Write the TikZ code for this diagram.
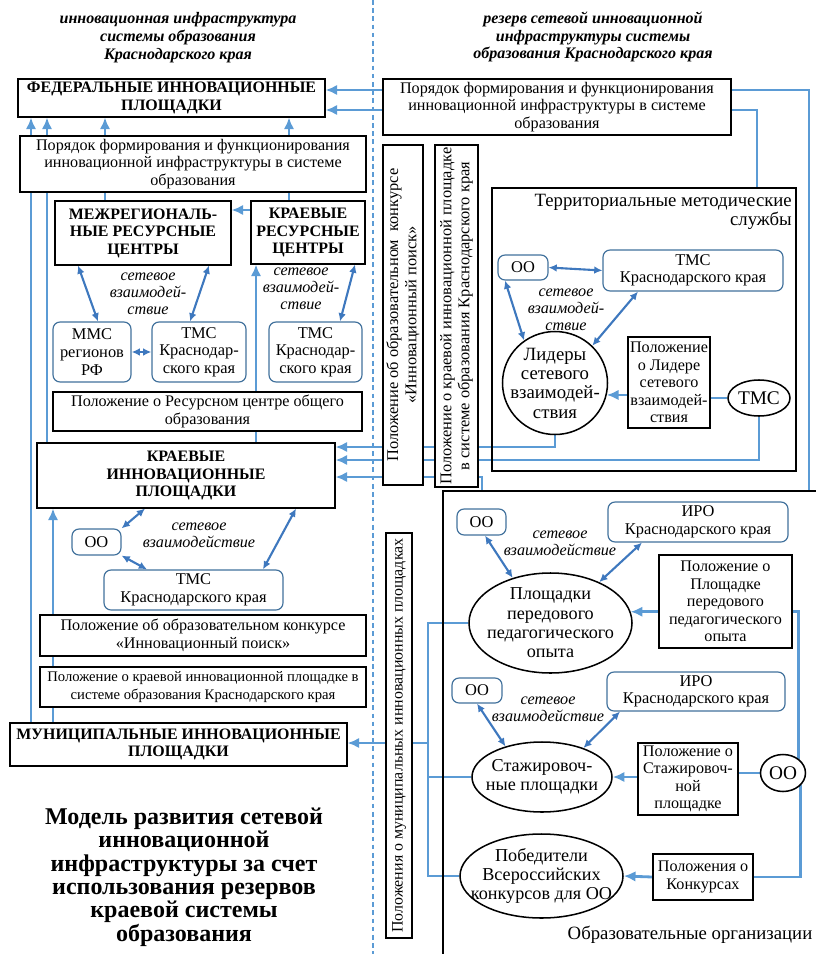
\documentclass[tikz,border=0pt]{standalone}
\usepackage{fontspec}
\setmainfont{Liberation Serif}
\usetikzlibrary{arrows.meta,shapes.geometric,backgrounds}
\definecolor{lblue}{RGB}{91,155,213}
\definecolor{dblue}{RGB}{62,120,190}
\definecolor{bblue}{RGB}{65,113,156}
\newcommand{\pu}{0.03cm}
\tikzset{
  wh/.style 2 args={minimum width=#1*\pu, minimum height=#2*\pu},
  bx/.style={draw, line width=0.9pt, fill=white, align=center, inner sep=0pt, font=\fontsize{13.8}{15}\selectfont},
  hbx/.style={bx, font=\fontsize{13.6}{15}\selectfont\bfseries},
  rbx/.style={bx, draw=bblue, line width=1pt, rounded corners=6pt, font=\fontsize{14}{15}\selectfont},
  vbx/.style={bx, rotate=90, font=\fontsize{14}{15.5}\selectfont},
  ell/.style={ellipse, draw, line width=1.3pt, fill=white, inner sep=0pt},
  etxt/.style={align=center, inner sep=0pt, font=\fontsize{15.5}{16.5}\selectfont},
  net/.style={align=center, font=\fontsize{13.8}{14.5}\selectfont\itshape},
  hd/.style={align=center, font=\fontsize{13.7}{15.3}\selectfont\bfseries\itshape},
  region/.style={draw, line width=0.9pt, inner sep=0pt},
  lbl/.style={inner sep=0pt, font=\fontsize{16}{16.5}\selectfont},
  arr/.style={draw=lblue, line width=2.4pt, -{Latex[length=10pt,width=9pt]}},
  ln/.style={draw=lblue, line width=2.4pt},
  thn/.style={draw=lblue, line width=0.9pt},
  dbl/.style={draw=dblue, line width=1.8pt, {Latex[length=7pt,width=6.5pt]}-{Latex[length=7pt,width=6.5pt]}},
}

\begin{document}
\begin{tikzpicture}[x=\pu, y=-\pu]
\useasboundingbox (0,0) rectangle (816,954);
\clip (0,0) rectangle (816,954);

\node[hd] (hdl) at (178,38) {инновационная инфраструктура\\системы образования\\Краснодарского края};
\node[hd] (hdr) at (593,37) {резерв сетевой инновационной\\инфраструктуры системы\\образования Краснодарского края};

\node[hbx, wh={307}{38}] (fed) at (171.5,98) {ФЕДЕРАЛЬНЫЕ ИННОВАЦИОННЫЕ\\ПЛОЩАДКИ};
\node[bx, wh={346}{56}] (porl) at (193,164) {Порядок формирования и функционирования\\инновационной инфраструктуры в системе\\образования};
\node[bx, wh={348}{56}] (porr) at (557,107) {Порядок формирования и функционирования\\инновационной инфраструктуры в системе\\образования};
\node[hbx, wh={176}{64}] (mrc) at (143,233) {МЕЖРЕГИОНАЛЬ-\\НЫЕ РЕСУРСНЫЕ\\ЦЕНТРЫ};
\node[hbx, wh={114}{63}] (krc) at (308,232.5) {КРАЕВЫЕ\\РЕСУРСНЫЕ\\ЦЕНТРЫ};
\node[net] (net1) at (148,294) {сетевое\\взаимодей-\\ствие};
\node[net] (net2) at (301,289) {сетевое\\взаимодей-\\ствие};
\node[rbx, wh={78}{60}] (mms) at (92,352) {ММС\\регионов\\РФ};
\node[rbx, wh={94}{60}] (tms1) at (199,352) {ТМС\\Краснодар-\\ского края};
\node[rbx, wh={93}{60}] (tms2) at (315.5,352) {ТМС\\Краснодар-\\ского края};
\node[bx, wh={309}{39}] (polrc) at (207.5,411.5) {Положение о Ресурсном центре общего\\образования};
\node[hbx, wh={298}{65}] (kip) at (186,475.5) {КРАЕВЫЕ\\ИННОВАЦИОННЫЕ\\ПЛОЩАДКИ};
\node[rbx, wh={49}{26}] (oo1) at (96.5,542) {ОО};
\node[net] (net3) at (199,535) {сетевое\\взаимодействие};
\node[rbx, wh={179}{40}] (tms3) at (193.5,590) {ТМС\\Краснодарского края};
\node[bx, wh={326}{41}] (polkon) at (203,635.5) {Положение об образовательном конкурсе\\«Инновационный поиск»};
\node[bx, wh={326}{40}, font=\fontsize{12.5}{15}\selectfont] (polkr) at (203,687) {Положение о краевой инновационной площадке в\\системе образования Краснодарского края};
\node[hbx, wh={337}{43}] (mun) at (178.5,744.5) {МУНИЦИПАЛЬНЫЕ ИННОВАЦИОННЫЕ\\ПЛОЩАДКИ};
\node[align=center, font=\fontsize{20.5}{20}\selectfont\bfseries] (ttl) at (184,877) {Модель развития сетевой\\инновационной\\инфраструктуры за счет\\использования резервов\\краевой системы\\образования};

\node[vbx, wh={340}{40}] (vkon) at (403,315) {Положение об образовательном\ \ конкурсе\\«Инновационный поиск»};
\node[vbx, wh={342}{43}] (vkr) at (456.5,316) {Положение о краевой инновационной площадке\\в системе образования Краснодарского края};
\node[vbx, wh={405}{26}, font=\fontsize{13.6}{15}\selectfont] (vmun) at (399,735.5) {Положения о муниципальных инновационных площадках};

\node[region, wh={304}{283}] (tmsreg) at (644,329.5) {};
\node[lbl, align=right, anchor=north east] (tmslbl) at (792,194) {Территориальные методические\\службы};
\node[rbx, wh={50}{25}] (oo2) at (523,267.5) {ОО};
\node[rbx, wh={180}{41}] (tmsa) at (693,270.5) {ТМС\\Краснодарского края};
\node[net] (net4) at (566,310) {сетевое\\взаимодей-\\ствие};
\node[ell, wh={105}{103}] (lid) at (555,383) {};
\node[etxt, font=\fontsize{16}{16.5}\selectfont] (lidt) at (lid) {Лидеры\\сетевого\\взаимодей-\\ствия};
\node[bx, wh={82}{91}] (pollid) at (669,382.5) {Положение\\о Лидере\\сетевого\\взаимодей-\\ствия};
\node[ell, wh={62}{36}] (tmse) at (759,398) {};
\node[etxt, font=\fontsize{16.5}{17}\selectfont] (tmset) at (tmse) {ТМС};

\node[region, wh={397}{489}] (oreg) at (641.5,735.5) {};
\node[lbl] (oregl) at (690,935) {Образовательные организации};
\node[rbx, wh={49}{26}] (oo3) at (481.5,522) {ОО};
\node[net] (net5) at (560,543) {сетевое\\взаимодействие};
\node[rbx, wh={180}{40}] (iro1) at (698,522) {ИРО\\Краснодарского края};
\node[ell, wh={163}{100}] (pl) at (550.5,623) {};
\node[etxt] (plt) at (pl) {Площадки\\передового\\педагогического\\опыта};
\node[bx, wh={133}{93}] (polpl) at (725.5,601.5) {Положение о\\Площадке\\передового\\педагогического\\опыта};
\node[rbx, wh={50}{25}] (oo4) at (477,690.5) {ОО};
\node[net] (net6) at (548,709) {сетевое\\взаимодействие};
\node[rbx, wh={178}{39}] (iro2) at (696,691.5) {ИРО\\Краснодарского края};
\node[ell, wh={140}{70}] (st) at (542,777) {};
\node[etxt] (stt) at (st) {Стажировоч-\\ные площадки};
\node[bx, wh={100}{72}] (polst) at (688,779) {Положение о\\Стажировоч-\\ной\\площадке};
\node[ell, wh={45}{37}] (ooe) at (783,773) {};
\node[etxt, font=\fontsize{16.5}{17}\selectfont] (ooet) at (ooe) {ОО};
\node[ell, wh={163}{84}] (pob) at (541.5,876) {};
\node[etxt] (pobt) at (pob) {Победители\\Всероссийских\\конкурсов для ОО};
\node[bx, wh={100}{46}] (polk) at (703,877) {Положения о\\Конкурсах};
\coordinate (jn) at (428,743);

\begin{scope}[on background layer]
\draw[lblue, line width=1pt, dash pattern=on 4pt off 3pt] (373,0) -- (373,954);
\draw[arr] (mun.north -| 31,0) -- (fed.south -| 31,0);
\draw[arr] (kip.north -| 47,0) -- (fed.south -| 47,0);
\draw[arr] (mrc.north -| 105,0) -- (fed.south -| 105,0);
\draw[arr] (krc.north -| 289,0) -- (fed.south -| 289,0);
\draw[arr] (krc.west |- 0,210) -- (mrc.east |- 0,210);
\draw[arr] (kip.north -| 256,0) -- (krc.south -| 256,0);
\draw[arr] (mun.north -| 53,0) -- (kip.south -| 53,0);
\draw[arr] (oreg.north -| 809,0) |- (fed.east |- 0,90);
\draw[arr] (tmsreg.north -| 757,0) |- (fed.east |- 0,110);
\draw[arr] (lid.south) |- (kip.east |- 0,447);
\draw[arr] (tmse.south) |- (kip.east |- 0,460);
\draw[arr] (oreg.north -| 482,0) |- (kip.east |- 0,477);
\draw[arr] (pollid.west |- lid.-13) -- (lid.-13);
\draw[ln] (tmse.west) -- (pollid.east |- tmse.west);
\draw[arr] (polpl.west |- pl.8) -- (pl.8);
\draw[ln] (polpl.east |- pl.8) -| (ooe.42);
\draw[arr] (polst.west |- st.east) -- (st.east);
\draw[ln] (ooe.west) -- (polst.east |- ooe.west);
\draw[ln] (ooe.-35) |- (polk.east);
\draw[arr] (polk.west) -- (pob.east);
\draw[thn] (pl.west) -| (jn);
\draw[thn] (st.west) -| (jn);
\draw[thn] (pob.west) -| (jn);
\draw[arr] (jn) -- (mun.east |- jn);
\draw[dbl] (mrc.south -| 78,0) -- (mms.north -| 98,0);
\draw[dbl] (mrc.south -| 209,0) -- (tms1.north -| 190,0);
\draw[dbl] (mms.east) -- (tms1.west);
\draw[dbl] (krc.south -| 355,0) -- (tms2.north -| 340,0);
\draw[dbl] (oo1.north east) -- (kip.south -| 145,0);
\draw[dbl] (oo1.south east) -- (tms3.north -| 147,0);
\draw[dbl] (kip.south -| 296,0) -- (tms3.north -| 263,0);
\draw[dbl] (oo2.east) -- (tmsa.west);
\draw[dbl] (oo2.south -| 505,0) -- (lid.126);
\draw[dbl] (tmsa.south -| 638,0) -- (lid.45);
\draw[dbl] (oo3.south -| 485,0) -- (pl.130);
\draw[dbl] (iro1.south -| 642,0) -- (pl.40);
\draw[dbl] (oo4.south -| 477,0) -- (st.140);
\draw[dbl] (iro2.south -| 620,0) -- (st.35);
\end{scope}
\end{tikzpicture}
\end{document}
